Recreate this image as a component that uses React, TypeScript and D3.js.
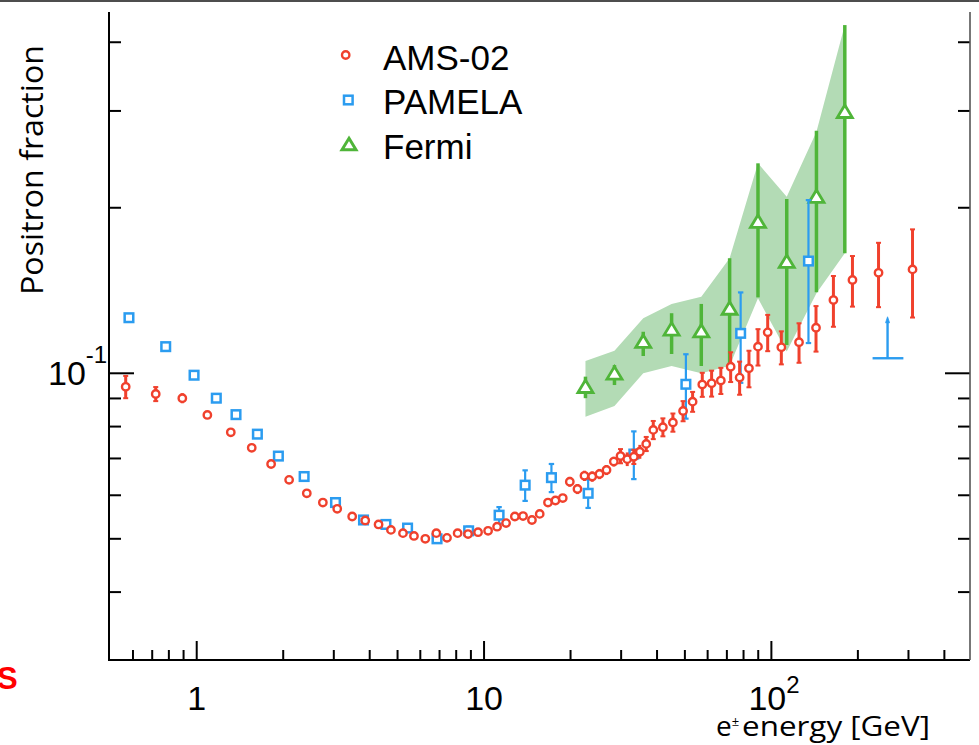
import React from 'react';
import * as d3 from 'd3';

// ---------- data ----------
const amsEnergy = [0.566, 0.720, 0.891, 1.089, 1.314, 1.554, 1.815, 2.097, 2.416, 2.748,
  3.083, 3.476, 3.859, 4.294, 4.742, 5.222, 5.703, 6.245, 6.822, 7.431,
  8.091, 8.796, 9.531, 10.33, 11.10, 11.93, 12.80, 13.67, 14.68, 15.62,
  16.69, 17.72, 18.79, 19.88, 21.14, 22.36, 23.79, 25.22, 26.68, 28.29,
  29.85, 31.50, 33.21, 34.85, 36.68, 38.81, 41.92, 45.42, 49.28, 53.19,
  57.48, 61.94, 66.69, 72.15, 77.53, 83.55, 89.82, 97.08, 108.3, 124.8,
  143.0, 164.4, 191.5, 236.0, 309.9];
const amsFraction = [0.0945, 0.0917, 0.0901, 0.0840, 0.0781, 0.0732, 0.0684, 0.0640, 0.0605, 0.0582,
  0.0567, 0.0549, 0.0540, 0.0531, 0.0519, 0.0512, 0.0506, 0.0500, 0.0512, 0.0502,
  0.0512, 0.0510, 0.0514, 0.0517, 0.0526, 0.0534, 0.0549, 0.0550, 0.0541, 0.0555,
  0.0582, 0.0587, 0.0593, 0.0635, 0.0616, 0.0651, 0.0649, 0.0656, 0.0667, 0.0691,
  0.0707, 0.0698, 0.0705, 0.0720, 0.0744, 0.0789, 0.0798, 0.0814, 0.0854, 0.0888,
  0.0954, 0.0959, 0.0970, 0.1028, 0.0982, 0.1021, 0.1118, 0.1187, 0.1115, 0.1139,
  0.1210, 0.1359, 0.1478, 0.1523, 0.1545];
const amsError = [0.0044, 0.0027, 0.0019, 0.0014, 0.0010, 0.0009, 0.0009, 0.0008, 0.0008, 0.0007,
  0.0006, 0.0006, 0.0006, 0.0006, 0.0006, 0.0006, 0.0006, 0.0006, 0.0006, 0.0006,
  0.0006, 0.0006, 0.0006, 0.0006, 0.0006, 0.0006, 0.0006, 0.0006, 0.0006, 0.0006,
  0.0006, 0.0006, 0.0006, 0.0013, 0.0013, 0.0014, 0.0014, 0.0014, 0.0014, 0.0014,
  0.0021, 0.0020, 0.0021, 0.0021, 0.0022, 0.0030, 0.0030, 0.0031, 0.0036, 0.0037,
  0.0048, 0.0052, 0.0053, 0.0064, 0.0068, 0.0078, 0.0085, 0.0090, 0.0077, 0.0094,
  0.0115, 0.0144, 0.0156, 0.0204, 0.0282];

const pamelaEnergy = [0.581, 0.780, 0.979, 1.170, 1.370, 1.626, 1.924, 2.365, 3.041, 3.806,
  4.555, 5.418, 6.860, 8.838, 11.28, 13.90, 17.16, 23.03, 33.21, 50.40, 78.17, 134.6];
const pamelaFraction = [0.1262, 0.1118, 0.0992, 0.0901, 0.0841, 0.0775, 0.0707, 0.0649, 0.0582, 0.0541,
  0.0531, 0.0523, 0.0500, 0.0517, 0.0552, 0.0626, 0.0646, 0.0605, 0.0713, 0.0955, 0.1182, 0.1600];
const pamelaError = [0, 0, 0, 0, 0, 0, 0, 0, 0, 0,
  0.0005, 0.0006, 0.0007, 0.0009, 0.0019, 0.0040, 0.0038, 0.0036, 0.0071, 0.0128, 0.0221, 0.0465];
const pamelaLimitEnergy = [253.7];
const pamelaLimitBinLow = [225];
const pamelaLimitBinHigh = [288];
const pamelaLimitFraction = [0.1065];
const pamelaLimitArrowTo = [0.1259];

const fermiEnergy = [22.54, 28.44, 35.81, 44.95, 57.02, 71.56, 89.82, 113.1, 143.5, 180.1];
const fermiFraction = [0.0939, 0.0993, 0.1134, 0.1194, 0.1185, 0.1303, 0.1874, 0.1585, 0.2081, 0.2970];
const fermiLow = [0.0901, 0.0952, 0.1075, 0.1084, 0.1031, 0.1032, 0.1374, 0.1126, 0.1404, 0.1653];
const fermiHigh = [0.0986, 0.1035, 0.1190, 0.1286, 0.1337, 0.1619, 0.2409, 0.2075, 0.2761, 0.4298];
const fermiBandLow = [0.0834, 0.0872, 0.1000, 0.1031, 0.1000, 0.1032, 0.1369, 0.1095, 0.1398, 0.1653];
const fermiBandHigh = [0.1053, 0.1099, 0.1259, 0.1337, 0.1378, 0.1619, 0.2409, 0.2095, 0.2750, 0.4298];

const xMajorTicks = [1, 10, 100];
const xTickBase = ['1', '10', '10'];
const xTickExp = ['', '', '2'];
const yMajorTicks = [0.1];
const yTickBase = ['10'];
const yTickExp = ['-1'];
const legendLabels = ['AMS-02', 'PAMELA', 'Fermi'];

const RED = '#f0412d';
const BLUE = '#2b9cf0';
const GREEN = '#4fb539';
const BAND = '#b3dbb5';
const NUM_FONT = '"Liberation Sans", Arial, Helvetica, sans-serif';
const TITLE_FONT = '"Open Sans", "Noto Sans", sans-serif';

function triPath(cx: number, cy: number, w: number, h: number) {
  const p = d3.path();
  p.moveTo(cx, cy - (2 * h) / 3);
  p.lineTo(cx + w / 2, cy + h / 3);
  p.lineTo(cx - w / 2, cy + h / 3);
  p.closePath();
  return p.toString();
}

export default function App() {
  const W = 979;
  const H = 745;
  const x = d3.scaleLog().domain([0.49, 490]).range([107.7, 969.7]);
  const y = d3.scaleLog().domain([0.0301, 0.454]).range([660, 12]);
  const left = 109;
  const right = 970;
  const bottom = 660;
  const top = 12;

  const xMinor = x.ticks().filter((t) => !xMajorTicks.includes(t) && x(t) > left + 4 && x(t) < right - 2);
  const yMinor = y.ticks().filter((t) => !yMajorTicks.some((m) => Math.abs(m - t) < 1e-9) && y(t) < bottom - 2 && y(t) > top);

  const band = d3
    .area<number>()
    .x((i) => x(fermiEnergy[i]))
    .y0((i) => y(fermiBandLow[i]))
    .y1((i) => y(fermiBandHigh[i]));
  const idxF = fermiEnergy.map((_, i) => i);

  return (
    <svg width={W} height={H} style={{ position: 'absolute', left: 0, top: 0, background: '#fff' }}>
      <rect x={0} y={0} width={W} height={H} fill="#fff" />
      <rect x={0} y={0} width={W} height={2} fill="#4d4d4d" />

      {/* Fermi band */}
      <path d={band(idxF) || ''} fill={BAND} stroke="none" />

      {/* Fermi bars and triangles */}
      {fermiEnergy.map((e, i) => (
        <line key={'fb' + i} x1={x(e)} x2={x(e)} y1={y(fermiLow[i])} y2={y(fermiHigh[i])} stroke={GREEN} strokeWidth={3.5} />
      ))}
      {fermiEnergy.map((e, i) => (
        <path key={'ft' + i} d={triPath(x(e), y(fermiFraction[i]), 15, 12.5)} fill="#fff" stroke={GREEN} strokeWidth={2.8} strokeLinejoin="miter" />
      ))}

      {/* PAMELA bars */}
      {pamelaEnergy.map((e, i) =>
        pamelaError[i] > 0 ? (
          <g key={'pb' + i} stroke={BLUE} strokeWidth={2.2}>
            <line x1={x(e)} x2={x(e)} y1={y(pamelaFraction[i] - pamelaError[i])} y2={y(pamelaFraction[i] + pamelaError[i])} />
            <line x1={x(e) - 2.7} x2={x(e) + 2.7} y1={y(pamelaFraction[i] - pamelaError[i])} y2={y(pamelaFraction[i] - pamelaError[i])} />
            <line x1={x(e) - 2.7} x2={x(e) + 2.7} y1={y(pamelaFraction[i] + pamelaError[i])} y2={y(pamelaFraction[i] + pamelaError[i])} />
          </g>
        ) : null
      )}
      {/* PAMELA upper limit */}
      {pamelaLimitEnergy.map((e, i) => (
        <g key={'pl' + i} stroke={BLUE} strokeWidth={2.4} fill={BLUE}>
          <line x1={x(pamelaLimitBinLow[i])} x2={x(pamelaLimitBinHigh[i])} y1={y(pamelaLimitFraction[i])} y2={y(pamelaLimitFraction[i])} />
          <line x1={x(e)} x2={x(e)} y1={y(pamelaLimitFraction[i])} y2={y(pamelaLimitArrowTo[i]) + 3} />
          <path d={triPath(x(e), y(pamelaLimitArrowTo[i]) + 2.5, 4, 6)} strokeWidth={0.8} />
        </g>
      ))}
      {pamelaEnergy.map((e, i) => (
        <rect key={'ps' + i} x={x(e) - 4.3} y={y(pamelaFraction[i]) - 4.3} width={8.6} height={8.6} fill="#fff" stroke={BLUE} strokeWidth={2.5} />
      ))}

      {/* AMS-02 */}
      {amsEnergy.map((e, i) => {
        const cx = x(e);
        const y1 = y(amsFraction[i] - amsError[i]);
        const y2 = y(amsFraction[i] + amsError[i]);
        return (
          <g key={'ab' + i} stroke={RED} strokeWidth={3}>
            <line x1={cx} x2={cx} y1={y1} y2={y2} />
            {y1 - y2 > 14 ? (
              <>
                <line x1={cx - 2.5} x2={cx + 2.5} y1={y1} y2={y1} strokeWidth={2} />
                <line x1={cx - 2.5} x2={cx + 2.5} y1={y2} y2={y2} strokeWidth={2} />
              </>
            ) : null}
          </g>
        );
      })}
      {amsEnergy.map((e, i) => (
        <circle key={'ac' + i} cx={x(e)} cy={y(amsFraction[i])} r={3.7} fill="#fff" stroke={RED} strokeWidth={2.4} />
      ))}

      {/* axes */}
      <g stroke="#000" strokeWidth={2}>
        <line x1={left} x2={left} y1={top} y2={bottom + 1} />
        <line x1={left - 1} x2={right} y1={bottom} y2={bottom} />
        {xMajorTicks.map((t) => (
          <line key={'xM' + t} x1={x(t)} x2={x(t)} y1={bottom} y2={bottom - 19} />
        ))}
        {xMinor.map((t) => (
          <line key={'xm' + t} x1={x(t)} x2={x(t)} y1={bottom} y2={bottom - 10} />
        ))}
        {yMajorTicks.map((t) => (
          <g key={'yM' + t}>
            <line x1={left} x2={left + 25} y1={y(t)} y2={y(t)} />
            <line x1={right} x2={right - 25} y1={y(t)} y2={y(t)} />
          </g>
        ))}
        {yMinor.map((t) => (
          <g key={'ym' + t}>
            <line x1={left} x2={left + 12} y1={y(t)} y2={y(t)} />
            <line x1={right} x2={right - 12} y1={y(t)} y2={y(t)} />
          </g>
        ))}
      </g>
      <line x1={right} x2={right} y1={top} y2={bottom} stroke="#555" strokeWidth={1.6} />

      {/* tick labels */}
      <g fontFamily={NUM_FONT} fill="#000">
        {xMajorTicks.map((t, i) =>
          xTickExp[i] ? (
            <text key={'xl' + t} x={x(t) - 23} y={710} fontSize={34}>
              {xTickBase[i]}
              <tspan fontSize={24} dy={-17}>{xTickExp[i]}</tspan>
            </text>
          ) : (
            <text key={'xl' + t} x={x(t)} y={710} fontSize={34} textAnchor="middle">{xTickBase[i]}</text>
          )
        )}
        {yMajorTicks.map((t, i) => (
          <text key={'yl' + t} x={48} y={y(t) + 12} fontSize={34}>
            {yTickBase[i]}
            <tspan fontSize={24} dy={-22}>{yTickExp[i]}</tspan>
          </text>
        ))}
      </g>

      {/* axis titles */}
      <text
        transform="translate(43,170) rotate(-90)"
        textAnchor="middle"
        fontFamily={TITLE_FONT}
        fontSize={31}
        textLength={250}
        lengthAdjust="spacingAndGlyphs"
        fill="#000"
      >
        Positron fraction
      </text>
      <text x={716} y={736} fontFamily={TITLE_FONT} fontSize={28} fill="#000">
        e
        <tspan fontSize={13} dy={-10}>±</tspan>
        <tspan x={742} dy={10} textLength={188} lengthAdjust="spacingAndGlyphs">energy [GeV]</tspan>
      </text>

      {/* legend */}
      <g>
        <circle cx={345.7} cy={55} r={3.7} fill="#fff" stroke={RED} strokeWidth={2.4} />
        <rect x={348.3 - 4.3} y={100 - 4.3} width={8.6} height={8.6} fill="#fff" stroke={BLUE} strokeWidth={2.5} />
        <path d={triPath(349, 146, 14, 11.5)} fill="#fff" stroke={GREEN} strokeWidth={3} />
        {legendLabels.map((l, i) => (
          <text key={l} x={383} y={[70, 113.5, 158.5][i]} fontFamily={NUM_FONT} fontSize={35} fill="#000">
            {l}
          </text>
        ))}
      </g>

      {/* slide artifact */}
      <text x={-3} y={689} fontFamily={NUM_FONT} fontWeight="bold" fontSize={31} fill="#ff0000">S</text>
    </svg>
  );
}
